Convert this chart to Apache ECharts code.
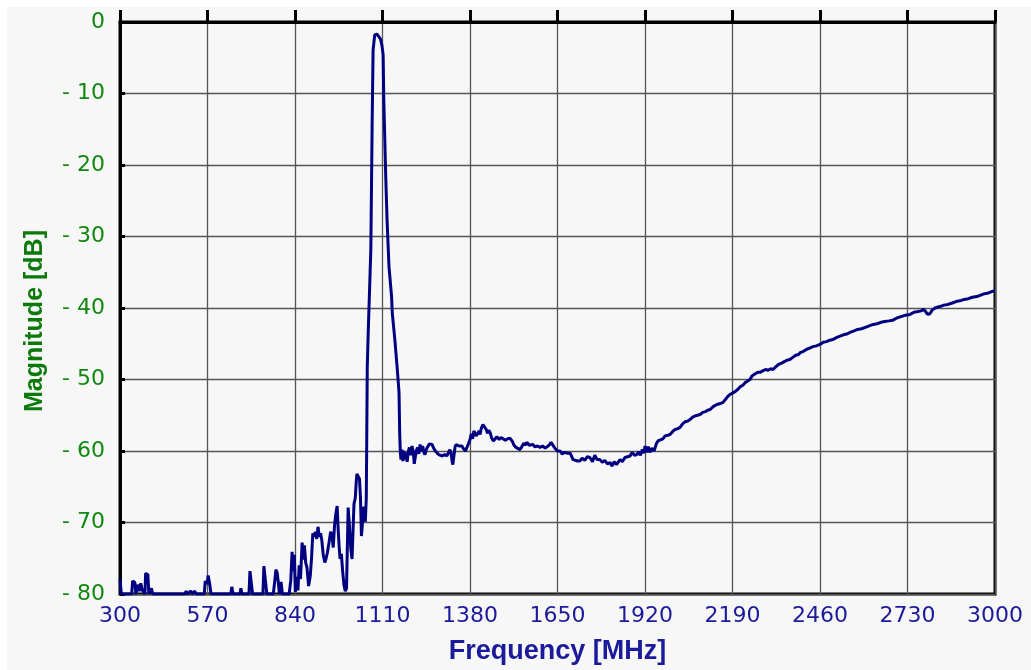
<!DOCTYPE html>
<html lang="en">
<head>
    <title>Frequency response</title>
    <meta charset="utf-8">
    <script src="https://cdn.jsdelivr.net/npm/echarts@6.0.0/dist/echarts.min.js"></script>
    <style>
        html, body { margin: 0; padding: 0; background: #ffffff; }
        #chart { position: absolute; left: 7px; top: 7px; width: 1024px; height: 663px; background: #f7f7f7; }
    </style>
</head>
<body>
<div id="chart"></div>
<script type="text/javascript">
    // tick labels
    var freqTicks = [300, 570, 840, 1110, 1380, 1650, 1920, 2190, 2460, 2730, 3000];

    // [MHz, dB], split by region
    var lowBand = [
        [300,-77.9],[304,-80],[336,-80],[339,-78.2],[346,-78.4],[349,-80],[354,-78.7],[359,-79.6],[364,-78.5],[369,-79.5],
        [377,-80],[379,-77.1],[386,-77.3],[389,-80],[397,-79.2],[401,-80],[500,-80],[504,-79.6],[509,-80],[518,-79.6],
        [524,-80],[530,-79.6],[536,-80],[560,-80],[563,-78.2],[569,-78.6],[572,-77.4],[576,-78.4],[581,-80],[642,-80],
        [645,-79.0],[649,-80],[670,-80],[673,-79.2],[676,-80],[698,-80],[701,-76.8],[706,-76.9],[709,-80],[741,-80],
        [744,-76.1],[750,-76.3],[753,-80],[773,-80],[777,-78.4],[781,-76.6],[785,-77.0],[789,-78.6],[792,-80],[797,-78.3],
        [801,-80],[822,-80],[827,-78.1],[831,-74.1],[835,-76.8],[838,-74.5],[841,-79.7],[845,-77.6],[849,-79.5],[853,-76.0],
        [857,-77.9],[862,-72.8],[866,-75.2],[869,-73.2],[873,-75.6],[877,-76.3],[882,-78.9],[887,-77.5],[891,-75.0],[895,-71.5],
        [899,-72.0],[903,-71.3],[907,-72.3],[911,-70.6],[915,-72.0],[919,-71.5],[923,-72.6],[927,-74.5],[932,-75.6],[936,-75.0],
        [940,-74.2],[945,-72.8],[950,-71.3],[954,-71.8],[958,-73.5],[962,-70.4],[966,-68.8],[970,-67.7],[973,-70.8],[976,-73.2],
        [979,-75.1],[983,-74.4],[987,-76.8],[991,-78.7],[995,-79.6],[999,-79.2],[1002,-72.4],[1004,-67.9],[1008,-70.5],[1012,-73.6],
        [1016,-75.1],[1019,-71.2],[1022,-67.4],[1026,-66.6],[1029,-64.3],[1031,-63.2],[1035,-63.4],[1039,-63.9],[1042,-66.5],[1045,-71.9],
        [1048,-70.2],[1051,-67.8],[1054,-68.1],[1057,-69.9],[1060,-66.5]
    ];

    var peak = [
        [1061,-60.7],[1063,-48.3],[1065,-48.2],[1066,-43.3],[1072,-43.3],[1074,-31.8],[1077,-31.6],[1078,-14.4],[1080,-14.3],[1081,-3.9],
        [1084,-3.8],[1086,-1.8],[1093,-1.7],[1099,-1.9],[1104,-2.4],[1108,-3.2],[1112,-4.6],[1114,-10.9],[1118,-11.0],[1120,-21.6],
        [1123,-21.8],[1124,-27.6],[1128,-27.7],[1130,-34.2],[1136,-34.4],[1138,-38.4],[1140,-40.6],[1145,-40.8],[1148,-44.4],[1153,-44.6],
        [1155,-48.2],[1159,-48.4],[1161,-51.8],[1163,-57.4],[1165,-60.2]
    ];

    var floor = [
        [1167,-61.2],[1170,-59.8],[1173,-61.4],[1176,-60.0],[1179,-61.2],[1183,-60.2],[1186,-61.5],[1189,-60.2],[1193,-59.5],[1197,-60.6],
        [1201,-59.3],[1205,-60.1],[1208,-61.8],[1210,-61.6],[1214,-60.0],[1218,-59.5],[1222,-60.4],[1226,-59.1],[1230,-60.0],[1234,-59.3],
        [1238,-60.2],[1241,-60.5],[1246,-59.7],[1250,-59.6],[1255,-59.0],[1259,-59.2],[1263,-59.1],[1268,-59.6],[1273,-60.0],[1278,-60.0],
        [1283,-60.5],[1287,-60.7],[1295,-60.7],[1302,-60.5],[1309,-60.7],[1314,-60.2],[1318,-59.8],[1322,-60.4],[1325,-61.5],[1327,-61.9],
        [1330,-60.8],[1334,-59.4],[1337,-59.1],[1340,-59.1],[1346,-59.3],[1350,-59.5],[1355,-59.3],[1360,-59.7],[1366,-60.0],[1371,-60.0],
        [1375,-59.0],[1380,-58.4],[1384,-57.6],[1388,-58.3],[1392,-57.2],[1395,-57.0],[1399,-57.9],[1404,-57.9],[1408,-57.2],[1411,-57.7],
        [1415,-56.8],[1420,-56.3],[1426,-56.3],[1430,-57.0],[1434,-57.5],[1438,-57.1],[1442,-57.4],[1447,-58.2],[1452,-58.6],[1457,-58.6],
        [1463,-58.0],[1470,-58.4],[1476,-58.1],[1482,-58.1],[1489,-58.5],[1496,-58.3],[1503,-58.2],[1510,-58.6],[1516,-59.2],[1522,-59.5],
        [1528,-59.3],[1534,-59.8],[1540,-59.4],[1546,-58.9],[1550,-59.2],[1556,-58.8],[1562,-59.2],[1568,-59.4],[1574,-59.1],[1580,-59.4],
        [1588,-59.3],[1596,-59.5],[1604,-59.3],[1612,-59.6],[1618,-59.5],[1624,-59.2],[1630,-58.8],[1636,-58.8],[1642,-59.6],[1650,-60.0],
        [1658,-60.0],[1664,-60.4],[1672,-60.2],[1680,-60.3],[1689,-60.3],[1694,-60.8],[1698,-61.2],[1704,-61.3],[1712,-61.4],[1719,-61.4],
        [1726,-61.0],[1734,-61.3],[1742,-60.8],[1750,-60.9],[1758,-61.5],[1765,-60.6],[1772,-61.2],[1781,-61.2],[1788,-61.6],[1796,-61.3],
        [1804,-61.8],[1812,-61.6],[1818,-62.1],[1825,-61.5],[1832,-61.9],[1843,-61.2],[1850,-61.5],[1858,-60.9],[1866,-60.8],[1874,-60.7],
        [1880,-60.2],[1888,-60.6],[1895,-60.5],[1900,-60.1],[1906,-60.6],[1912,-59.8],[1917,-60.3]
    ];

    var rise = [
        [1920,-59.3],[1925,-60.2],[1930,-59.4],[1935,-60.2],[1941,-59.6],[1948,-60.0],[1955,-59.0],[1960,-58.6],[1966,-58.6],[1975,-58.3],
        [1982,-57.9],[1990,-57.8],[1997,-57.7],[2005,-57.3],[2012,-57.0],[2020,-56.9],[2028,-56.7],[2036,-56.2],[2044,-55.9],[2052,-55.8],
        [2059,-55.6],[2066,-55.3],[2074,-55.1],[2082,-55.0],[2090,-54.9],[2098,-54.6],[2106,-54.5],[2113,-54.3],[2121,-54.2],[2130,-53.8],
        [2136,-53.7],[2142,-53.5],[2150,-53.4],[2156,-53.3],[2161,-53.2],[2168,-52.8],[2175,-52.4],[2182,-52.1],[2190,-51.9],[2198,-51.7],
        [2206,-51.4],[2214,-51.0],[2222,-50.8],[2230,-50.4],[2237,-50.2],[2244,-50.0],[2250,-49.5],[2255,-49.7],[2260,-49.2],[2268,-49.0],
        [2275,-49.0],[2283,-48.8],[2292,-48.6],[2300,-48.7],[2308,-48.5],[2315,-48.6],[2324,-48.2],[2332,-47.9],[2342,-47.7],[2350,-47.5],
        [2358,-47.3],[2367,-47.2],[2376,-46.9],[2385,-46.6],[2394,-46.5],[2400,-46.2],[2408,-46.1],[2418,-45.8],[2428,-45.6],[2438,-45.4],
        [2449,-45.3],[2460,-45.1],[2470,-44.8],[2480,-44.7],[2490,-44.5],[2500,-44.4],[2512,-44.1],[2524,-43.9],[2536,-43.7],[2545,-43.6],
        [2553,-43.4],[2565,-43.2],[2576,-43.0],[2588,-42.9],[2600,-42.7],[2612,-42.5],[2624,-42.3],[2636,-42.2],[2648,-42.0],[2660,-41.9],
        [2673,-41.8],[2685,-41.7],[2697,-41.4],[2710,-41.2],[2724,-41.0],[2738,-40.9],[2750,-40.6],[2762,-40.5],[2772,-40.4],[2780,-40.2],
        [2786,-40.5],[2792,-40.9],[2799,-40.8],[2806,-40.3],[2815,-40.0],[2822,-39.9],[2830,-39.8],[2842,-39.6],[2855,-39.5],[2868,-39.3],
        [2880,-39.1],[2892,-39.0],[2905,-38.8],[2918,-38.7],[2930,-38.5],[2944,-38.4],[2956,-38.2],[2968,-38.0],[2980,-37.9],[2990,-37.7],
        [3000,-37.6]
    ];

    var trace = lowBand.concat(peak, floor, rise);

    var myChart = echarts.init(document.getElementById('chart'));
    var option = {
        animation: false,
        grid: {
            left: 113, right: 36, top: 15, bottom: 75,
            show: true,
            backgroundColor: '#f7f7f7',
            borderColor: '#000',
            borderWidth: 3
        },
        xAxis: {
            type: 'value',
            min: 300,
            max: 3000,
            name: 'Frequency [MHz]',
            nameLocation: 'middle',
            nameGap: 44,
            nameTextStyle: { color: '#1a1a9a', fontFamily: 'Liberation Sans', fontWeight: 'bold', fontSize: 27 },
            axisLine: { show: true, lineStyle: { color: '#000', width: 3 } },
            axisTick: { show: true, inside: true, length: 12, lineStyle: { color: '#000', width: 3 }, customValues: freqTicks },
            axisLabel: {
                color: '#1a1a9a', fontFamily: 'DejaVu Sans', fontSize: 22, margin: 11, customValues: freqTicks,
                formatter: function (v) { return String(v); }
            },
            splitLine: { show: true, lineStyle: { color: '#555', width: 1.3 } }
        },
        yAxis: {
            type: 'value',
            min: -80,
            max: 0,
            interval: 10,
            name: 'Magnitude [dB]',
            nameLocation: 'middle',
            nameGap: 72,
            nameRotate: 90,
            nameTextStyle: {
                color: '#0b7a0b', fontFamily: 'Liberation Sans', fontWeight: 'bold', fontSize: 25,
                padding: [0, 26, 0, 0]
            },
            axisLine: { show: true, lineStyle: { color: '#000', width: 3 } },
            axisTick: { show: true, inside: true, length: 5, lineStyle: { color: '#000', width: 3 } },
            axisLabel: {
                color: '#118811', fontFamily: 'DejaVu Sans', fontSize: 22, margin: 15,
                formatter: function (v) { return v === 0 ? '0' : '- ' + (-v); }
            },
            splitLine: { show: true, lineStyle: { color: '#555', width: 1.3 } }
        },
        series: [
            {
                type: 'line',
                data: trace,
                showSymbol: false,
                lineStyle: { color: '#000080', width: 3 },
                z: 5
            }
        ]
    };
    myChart.setOption(option);
</script>
</body>
</html>
